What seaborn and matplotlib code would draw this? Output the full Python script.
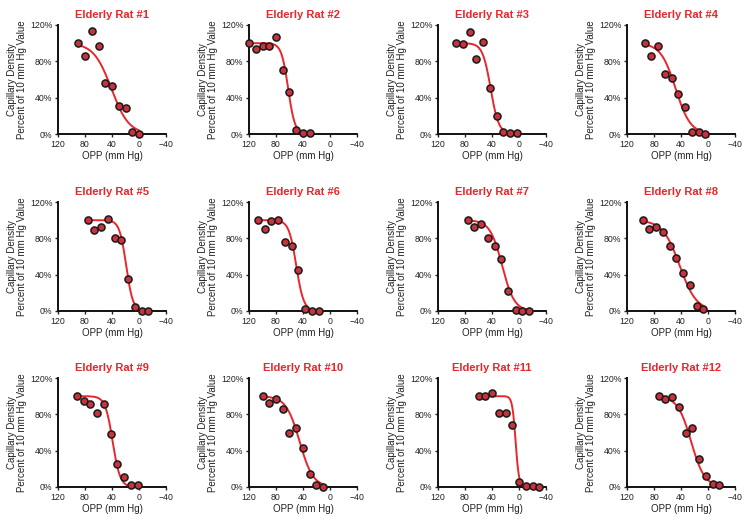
import numpy as np
import pandas as pd
import matplotlib
matplotlib.use("Agg")
import matplotlib.pyplot as plt
import seaborn as sns

# OPP (mm Hg) and capillary density (% of 10 mm Hg value) for each rat
opp_1 = [90, 80, 70, 60, 50, 40, 30, 20, 10, 0]
dens_1 = [100, 86, 113, 97, 56, 53, 31, 29, 2, 0]
opp_2 = [120, 110, 100, 90, 80, 70, 60, 50, 40, 30]
dens_2 = [100, 94, 97, 97, 107, 71, 46, 4, 1, 1]
opp_3 = [93, 83, 73, 63, 53, 43, 33, 23, 13, 3]
dens_3 = [100, 99, 112, 83, 101, 51, 20, 2.5, 1, 1]
opp_4 = [94, 84, 74, 64, 54, 44, 34, 24, 14, 4]
dens_4 = [100, 86, 97, 66, 62, 44, 30, 2.5, 2.5, 0]
opp_5 = [76, 66, 56, 46, 36, 26, 16, 6, -4, -14]
dens_5 = [100, 89, 93, 101, 80, 78, 35, 4, 0, 0]
opp_6 = [107, 97, 87, 77, 67, 57, 47, 37, 27, 17]
dens_6 = [100, 90, 99, 100, 76, 72, 45, 2, 0, 0]
opp_7 = [76, 66, 56, 46, 36, 26, 16, 5, -5, -15]
dens_7 = [100, 93, 96, 80, 72, 57, 22, 1, 0, 0]
opp_8 = [97, 87, 77, 67, 57, 47, 37, 27, 17, 7]
dens_8 = [100, 90, 92, 87, 72, 58, 42, 29, 5.5, 2]
opp_9 = [92, 82, 72, 62, 52, 42, 32, 22, 12, 2]
dens_9 = [100, 95, 91, 81, 91, 58, 25, 11, 2, 2.5]
opp_10 = [100, 90, 80, 70, 60, 50, 40, 30, 20, 10]
dens_10 = [100, 92, 97, 86, 60, 65, 43, 14, 2, 0.5]
opp_11 = [60, 50, 40, 30, 20, 10, 0, -10, -20, -30]
dens_11 = [100, 100, 104, 81, 82, 68, 5, 1.5, 1.5, 0.5]
opp_12 = [73, 63, 53, 43, 33, 23, 13, 3, -7, -17]
dens_12 = [100, 97, 99, 88, 60, 65, 31, 12, 3, 2]

# fitted sigmoid parameters (midpoint, slope)
fit_mid = [41, 62, 42, 48, 19, 50, 25, 42, 39, 45, 5, 25]
fit_slope = [13, 5, 6, 11, 5, 5.5, 9, 12.5, 5.5, 10, 2.5, 10]

opps = [opp_1, opp_2, opp_3, opp_4, opp_5, opp_6, opp_7, opp_8, opp_9, opp_10, opp_11, opp_12]
dens = [dens_1, dens_2, dens_3, dens_4, dens_5, dens_6, dens_7, dens_8, dens_9, dens_10, dens_11, dens_12]
titles = [f"Elderly Rat #{i + 1}" for i in range(12)]

sns.set_theme(style="ticks")
plt.rcParams["font.family"] = ["Liberation Sans", "DejaVu Sans"]

RED = "#e8262b"
W, H = 751, 524
fig = plt.figure(figsize=(W / 100, H / 100), dpi=100)

col_left = [58, 249, 438, 627]
row_top = [25, 202, 378]
ax_w, ax_h = 108, 109

for k in range(12):
    r, c = divmod(k, 4)
    ax = fig.add_axes([col_left[c] / W, 1 - (row_top[r] + ax_h) / H, ax_w / W, ax_h / H])
    df = pd.DataFrame({"opp": opps[k], "dens": dens[k]})

    xs = np.linspace(max(opps[k]), min(opps[k]), 200)
    fit = pd.DataFrame({"opp": xs, "dens": 100 / (1 + np.exp((fit_mid[k] - xs) / fit_slope[k]))})
    sns.lineplot(data=fit, x="opp", y="dens", color=RED, lw=1.4, ax=ax, sort=False)
    sns.scatterplot(data=df, x="opp", y="dens", color="#c8323c", edgecolor="#1a1a1a",
                    linewidth=1.1, s=26, ax=ax, clip_on=False, zorder=3)

    ax.set_xlim(120, -40)
    ax.set_ylim(0, 120)
    ax.set_xticks([120, 80, 40, 0, -40])
    ax.set_yticks([0, 40, 80, 120])
    ax.set_yticklabels(["0%", "40%", "80%", "120%"])
    ax.tick_params(labelsize=6.3, length=2.5, width=1, pad=1.5, colors="#222222")
    for s in ["left", "bottom"]:
        ax.spines[s].set_linewidth(1.4)
        ax.spines[s].set_color("#111111")
    sns.despine(ax=ax)
    ax.set_xlabel("OPP (mm Hg)", fontsize=7, labelpad=2, color="#222222")
    ax.set_ylabel("Capillary Density\nPercent of 10 mm Hg Value", fontsize=7,
                  labelpad=2, color="#222222", linespacing=1.05)
    ax.set_title(titles[k], color=RED, fontsize=8, fontweight="bold", pad=5)

fig.savefig("out.png", dpi=100)
